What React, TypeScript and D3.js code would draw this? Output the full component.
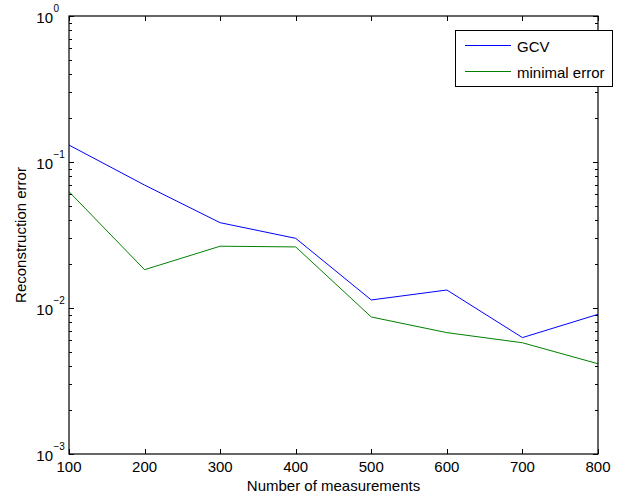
import React, { useEffect, useRef } from 'react'
import * as d3 from 'd3'

const measurements = [100, 200, 300, 400, 500, 600, 700, 800]
const gcvError = [0.1306, 0.0695, 0.0384, 0.0300, 0.01135, 0.01328, 0.00627, 0.00905]
const minimalError = [0.0626, 0.0183, 0.0265, 0.0262, 0.00868, 0.00678, 0.00578, 0.00415]
const yDecades = [1e-3, 1e-2, 1e-1, 1]
const yExponents = ['−3', '−2', '−1', '0']
const seriesNames = ['GCV', 'minimal error']
const seriesColors = ['#0000ff', '#008000']

export default function App() {
  const svgRef = useRef<SVGSVGElement>(null)

  useEffect(() => {
    const width = 619, height = 497
    const m = { top: 16, right: 21, bottom: 43, left: 69 }
    const font = '"Liberation Sans", Arial, Helvetica, sans-serif'
    const svg = d3.select(svgRef.current).attr('width', width).attr('height', height)
    svg.selectAll('*').remove()
    svg.append('rect').attr('width', width).attr('height', height).attr('fill', '#fff')

    const x = d3.scaleLinear().domain([100, 800]).range([m.left, width - m.right])
    const y = d3.scaleLog().domain([1e-3, 1]).range([height - m.bottom, m.top])
    const x0 = m.left, x1 = width - m.right, y0 = height - m.bottom, y1 = m.top

    const g = svg.append('g')

    // lines
    const series = [gcvError, minimalError]
    const line = d3.line<number>().x((_, i) => x(measurements[i])).y(d => y(d))
    series.forEach((s, k) => {
      g.append('path').datum(s).attr('d', line).attr('fill', 'none')
        .attr('stroke', seriesColors[k]).attr('stroke-width', 1)
    })

    // ticks (inward, on all four sides)
    const ticks = g.append('g').attr('stroke', '#000').attr('stroke-width', 1)
    measurements.forEach(v => {
      const px = Math.round(x(v)) + 0.5
      ticks.append('line').attr('x1', px).attr('x2', px).attr('y1', y0).attr('y2', y0 - 5)
      ticks.append('line').attr('x1', px).attr('x2', px).attr('y1', y1).attr('y2', y1 + 5)
    })
    const minor: number[] = []
    yDecades.slice(0, -1).forEach(d => { for (let k = 2; k <= 9; k++) minor.push(d * k) })
    yDecades.forEach(v => {
      const py = Math.round(y(v)) + 0.5
      ticks.append('line').attr('x1', x0).attr('x2', x0 + 5).attr('y1', py).attr('y2', py)
      ticks.append('line').attr('x1', x1).attr('x2', x1 - 5).attr('y1', py).attr('y2', py)
    })
    minor.forEach(v => {
      const py = Math.round(y(v)) + 0.5
      ticks.append('line').attr('x1', x0).attr('x2', x0 + 3).attr('y1', py).attr('y2', py)
      ticks.append('line').attr('x1', x1).attr('x2', x1 - 3).attr('y1', py).attr('y2', py)
    })

    // box
    g.append('rect').attr('x', x0).attr('y', y1).attr('width', x1 - x0).attr('height', y0 - y1)
      .attr('fill', 'none').attr('stroke', '#000').attr('stroke-width', 1.2)

    // x tick labels
    g.selectAll('text.xt').data(measurements).join('text').attr('class', 'xt')
      .attr('x', d => x(d)).attr('y', y0 + 18).attr('text-anchor', 'middle')
      .attr('font-family', font).attr('font-size', 15).text(d => d)

    // y tick labels
    yDecades.forEach((v, i) => {
      const py = y(v)
      g.append('text').attr('x', 53).attr('y', py + 7).attr('text-anchor', 'end')
        .attr('font-family', font).attr('font-size', 15).text('10')
      g.append('text').attr('x', 53.5).attr('y', py - 4.5).attr('text-anchor', 'start')
        .attr('font-family', font).attr('font-size', 10).text(yExponents[i])
    })

    // axis labels
    svg.append('text').attr('x', (x0 + x1) / 2).attr('y', 491).attr('text-anchor', 'middle')
      .attr('font-family', font).attr('font-size', 15).text('Number of measurements')
    svg.append('text').attr('transform', `translate(26,${(y0 + y1) / 2}) rotate(-90)`)
      .attr('text-anchor', 'middle').attr('font-family', font).attr('font-size', 15)
      .text('Reconstruction error')

    // legend
    const lg = svg.append('g')
    lg.append('rect').attr('x', 455.5).attr('y', 30.5).attr('width', 157).attr('height', 56)
      .attr('fill', '#fff').attr('stroke', '#000').attr('stroke-width', 1)
    seriesNames.forEach((name, k) => {
      const ly = 45.5 + k * 26
      lg.append('line').attr('x1', 465).attr('x2', 511).attr('y1', ly).attr('y2', ly)
        .attr('stroke', seriesColors[k]).attr('stroke-width', 1)
      lg.append('text').attr('x', 517).attr('y', ly + 6).attr('font-family', font)
        .attr('font-size', 15).text(name)
    })
  }, [])

  return (
    <svg ref={svgRef} style={{ position: 'absolute', left: 0, top: 0, display: 'block' }} />
  )
}
